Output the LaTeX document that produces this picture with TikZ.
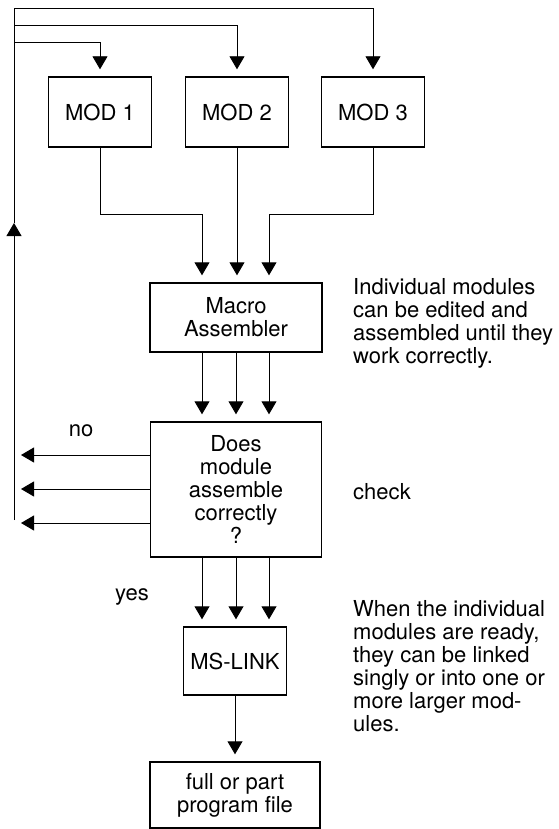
\documentclass[tikz,border=0pt]{standalone}
\usepackage{fontspec}
\setmainfont{TeX Gyre Heros}
\usetikzlibrary{arrows.meta}
\tikzset{
	modbox/.style={draw, line width=1.4pt, align=center, inner sep=0pt},
	tip/.style={-{Triangle[width=15pt,length=13pt]}, line width=0.9pt},
	flow/.style={tip, shorten >=7pt}
}
\begin{document}
\begin{tikzpicture}[x=1pt, y=-1pt, font=\fontsize{22}{23}\selectfont]
			\useasboundingbox (0,0) rectangle (558,829);

			\node[modbox, minimum width=103pt, minimum height=70pt] (mod1) at (100,112) {MOD 1};
			\node[modbox, minimum width=103pt, minimum height=70pt] (mod2) at (237,112) {MOD 2};
			\node[modbox, minimum width=103pt, minimum height=70pt] (mod3) at (373,112) {MOD 3};
			\node[modbox, minimum width=172pt, minimum height=69pt] (macro) at (236,317.5) {Macro\\Assembler};
			\node[modbox, minimum width=171pt, minimum height=135pt] (check) at (236,489.5) {Does\\module\\assemble\\correctly\\?};
			\node[modbox, minimum width=103pt, minimum height=68pt] (link) at (235,661) {MS-LINK};
			\node[modbox, minimum width=170pt, minimum height=66pt] (prog) at (235,795) {full or part\\program file};

			\coordinate (loopbot) at (14,520);
			\coordinate (loopup) at (14,223);
			\coordinate (looptop) at (14,8);
			\coordinate (branch2) at (14,25);
			\coordinate (branch1) at (14,42);

			\draw[tip] (loopbot) -- (loopup);
			\draw[flow] (loopup) -- (looptop) -| (mod3.north);
			\draw[flow] (branch2) -| (mod2.north);
			\draw[flow] (branch1) -| (mod1.north);

			\draw[flow] (mod1.south) -- ++(0,67) -| ([xshift=-34pt]macro.north);
			\draw[flow] (mod2.south) -- (mod2.south |- macro.north);
			\draw[flow] (mod3.south) -- ++(0,67) -| ([xshift=33pt]macro.north);

			\foreach \dx in {-34,0,33}
				\draw[flow] ([xshift=\dx pt]macro.south) -- ([xshift=\dx pt]check.north);
			\foreach \dx in {-34,0,33}
				\draw[flow] ([xshift=\dx pt]check.south) -- ([xshift=\dx pt]check.south |- link.north);
			\draw[flow] (link) -- (prog);

			\foreach \yy [count=\i] in {455,489,523} {
				\coordinate (no\i) at (21,\yy);
				\draw[tip] (check.west |- no\i) -- (no\i);
			}

			\node (nolbl) at (81,431) {no};
			\node (yeslbl) at (132,597) {yes};
			\node[anchor=west, inner sep=0pt] (checklbl) at (353,492) {check};
			\node[anchor=north west, align=left, inner sep=0pt] (note1) at (353,278) {Individual modules\\can be edited and\\assembled until they\\work correctly.};
			\node[anchor=north west, align=left, inner sep=0pt] (note2) at (353,600) {When the individual\\modules are ready,\\they can be linked\\singly or into one or\\more larger mod-\\ules.};
		\end{tikzpicture}
\end{document}
